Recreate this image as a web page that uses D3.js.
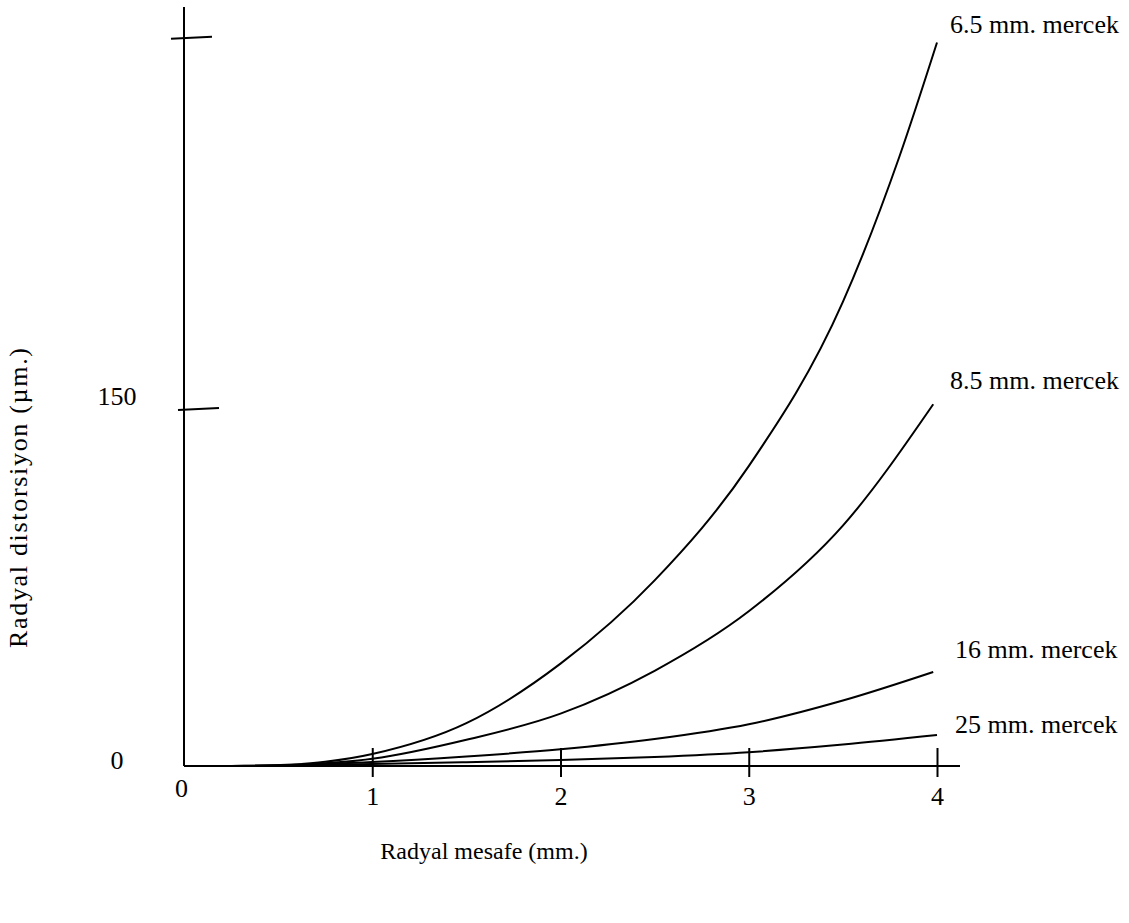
<!DOCTYPE html>
<html>
<head>
<meta charset="utf-8">
<script src="https://cdn.jsdelivr.net/npm/d3@7"></script>
<style>
  body { margin: 0; background: #fff; }
  text { font-family: "Liberation Serif", "Times New Roman", serif; fill: #000; }
</style>
</head>
<body>
<div id="chart"></div>
<script>
const chart_width = 1129;
const chart_height = 923;

// lens names and distortion readings (radial distance mm -> distortion um)
var lens_names = ['6.5 mm. mercek', '8.5 mm. mercek', '16 mm. mercek', '25 mm. mercek'];
var dist_65 = [[0.5, 0], [1, 5], [1.5, 18], [2, 43], [2.5, 78], [3, 126], [3.5, 195], [3.8, 256], [4, 304]];
var dist_85 = [[0.5, 0], [1, 3], [1.5, 11], [2, 22], [2.5, 40], [3, 65], [3.5, 101], [3.98, 152]];
var dist_16 = [[0.25, 0], [1, 1.7], [1.5, 4], [2, 7], [2.5, 11.3], [3, 17.5], [3.5, 27.5], [3.98, 39.5]];
var dist_25 = [[0.25, 0], [1, 0.8], [1.5, 1.6], [2, 2.5], [2.5, 3.8], [3, 5.8], [3.5, 9], [4, 13]];

var x_ticks = [0, 1, 2, 3, 4];
var y_ticks = [0, 150];
var y_marks = [150, 306]; // slanted marks on the y axis, top one has no label

var x_title = 'Radyal mesafe (mm.)';
var y_title = 'Radyal distorsiyon (µm.)';

var svg = d3.select('#chart')
            .append('svg')
            .attr('width', chart_width)
            .attr('height', chart_height);

var xScale = d3.scaleLinear().domain([0, 4]).range([184, 937]);
var yScale = d3.scaleLinear().domain([0, 150]).range([766, 409]);

var x0 = xScale(0);
var y0 = yScale(0);

// axis lines
svg.append('line')
    .attr('x1', x0).attr('x2', 960)
    .attr('y1', y0).attr('y2', y0)
    .attr('stroke', '#000').attr('stroke-width', 2);
svg.append('line')
    .attr('x1', x0).attr('x2', x0)
    .attr('y1', 7).attr('y2', y0)
    .attr('stroke', '#000').attr('stroke-width', 2);

// x axis ticks + labels
var xAxis = svg.append('g')
    .attr('transform', 'translate(0,' + y0 + ')')
    .call(d3.axisBottom(xScale).tickValues(x_ticks).tickFormat(d3.format('d')));
xAxis.select('.domain').remove();
xAxis.selectAll('.tick line')
    .attr('y1', -18).attr('y2', 11)
    .attr('stroke', '#000').attr('stroke-width', 2)
    .attr('display', function(d){ return d == 0 ? 'none' : null; });
xAxis.selectAll('.tick text')
    .attr('dy', 0)
    .attr('y', function(d){ return d == 0 ? 31 : 39; })
    .attr('x', function(d){ return d == 0 ? -3 : 0; })
    .style('font-family', '"Liberation Serif", serif')
    .style('font-size', '26px');

// y axis labels
var yAxis = svg.append('g')
    .attr('transform', 'translate(' + x0 + ',0)')
    .call(d3.axisLeft(yScale).tickValues(y_ticks).tickSize(0));
yAxis.select('.domain').remove();
yAxis.selectAll('.tick text')
    .attr('x', -67).attr('dy', '0.32em')
    .attr('y', function(d){ return d == 0 ? -6 : -13; })
    .attr('text-anchor', 'middle')
    .style('font-family', '"Liberation Serif", serif')
    .style('font-size', '26px');

// slanted y marks
svg.append('g')
    .selectAll('.y_mark')
    .data(y_marks)
    .enter()
    .append('line')
    .attr('class', 'y_mark')
    .attr('x1', function(d, i){ return i == 0 ? x0 - 6 : x0 - 13; })
    .attr('x2', function(d, i){ return i == 0 ? x0 + 35 : x0 + 28; })
    .attr('y1', function(d){ return yScale(d) + 1; })
    .attr('y2', function(d){ return yScale(d) - 1; })
    .attr('stroke', '#000').attr('stroke-width', 2);

// curves
var line = d3.line()
    .x(function(d){ return xScale(d[0]); })
    .y(function(d){ return yScale(d[1]); })
    .curve(d3.curveMonotoneX);

var series = [dist_65, dist_85, dist_16, dist_25];
svg.append('g')
    .selectAll('.lens_curve')
    .data(series)
    .enter()
    .append('path')
    .attr('class', 'lens_curve')
    .attr('d', line)
    .attr('fill', 'none')
    .attr('stroke', '#000')
    .attr('stroke-width', 2);

// curve labels
var label_x = [950, 950, 955, 955];
var label_y = [33, 389, 658, 733];
svg.append('g')
    .selectAll('.lens_label')
    .data(lens_names)
    .enter()
    .append('text')
    .attr('class', 'lens_label')
    .attr('x', function(d, i){ return label_x[i]; })
    .attr('y', function(d, i){ return label_y[i]; })
    .style('font-size', '26px')
    .text(function(d){ return d; });

// titles
svg.append('text')
    .attr('x', 484).attr('y', 859)
    .attr('text-anchor', 'middle')
    .style('font-size', '24px')
    .text(x_title);
svg.append('text')
    .attr('transform', 'translate(27,498) rotate(-90)')
    .attr('text-anchor', 'middle')
    .attr('textLength', 300)
    .attr('lengthAdjust', 'spacing')
    .style('font-size', '26px')
    .text(y_title);
</script>
</body>
</html>
